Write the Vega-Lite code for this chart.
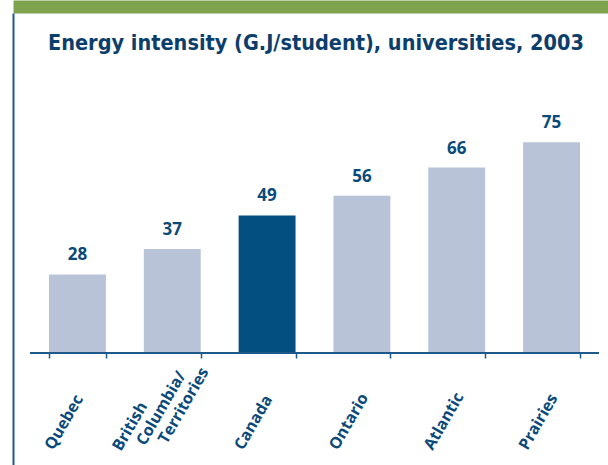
{
  "$schema": "https://vega.github.io/schema/vega-lite/v6.json",
  "width": 595,
  "height": 452,
  "autosize": {"type": "none"},
  "padding": {"left": 13, "top": 13, "right": 0, "bottom": 0},
  "background": "white",
  "title": {
    "text": "Energy intensity (G.J/student), universities, 2003",
    "anchor": "start",
    "frame": "group",
    "orient": "top",
    "offset": -48,
    "dx": 35,
    "font": "DejaVu Sans Condensed, Roboto, sans-serif",
    "fontSize": 21.5,
    "fontWeight": "bold",
    "color": "#0c3e6c"
  },
  "config": {"view": {"stroke": null}, "font": "Open Sans"},
  "data": {
    "values": [
      {"region": "Quebec", "value": 28},
      {"region": "British Columbia/ Territories", "value": 37},
      {"region": "Canada", "value": 49},
      {"region": "Ontario", "value": 56},
      {"region": "Atlantic", "value": 66},
      {"region": "Prairies", "value": 75}
    ]
  },
  "layer": [
    {
      "mark": {"type": "bar"},
      "encoding": {
        "x": {
          "field": "region",
          "type": "nominal",
          "sort": null,
          "scale": {"paddingInner": 0.4, "paddingOuter": 0.3375, "align": 0.5625},
          "axis": {
            "orient": "bottom",
            "offset": -112,
            "title": null,
            "domain": false,
            "ticks": true,
            "tickBand": "extent",
            "tickColor": "#1f5a8c",
            "tickSize": 5,
            "tickWidth": 1.5,
            "labelAngle": -60,
            "labelAlign": "left",
            "labelBaseline": "middle",
            "labelPadding": {"condition": {"test": "datum.value == 'British Columbia/ Territories'", "value": 91}, "value": 90},
            "labelOffset": {"condition": {"test": "datum.value == 'British Columbia/ Territories'", "value": -56}, "value": -29},
            "labelOverlap": false,
            "labelBound": false,
            "labelFont": "Open Sans",
            "labelFontSize": 16,
            "labelFontWeight": "bold",
            "labelColor": "#0a4a7a",
            "labelLineHeight": 18,
            "labelExpr": "datum.value == 'British Columbia/ Territories' ? ['British', '\u200b\u00a0\u00a0\u00a0\u00a0Columbia/', '\u200b\u00a0\u00a0\u00a0\u00a0\u00a0\u00a0\u00a0Territories'] : datum.value"
          }
        },
        "y": {
          "field": "value",
          "type": "quantitative",
          "scale": {"domain": [-39.8, 121], "nice": false, "zero": false},
          "axis": {
            "orient": "left",
            "title": null,
            "domain": true,
            "domainColor": "#1f5a8c",
            "domainWidth": 2,
            "ticks": false,
            "labels": false,
            "grid": false
          }
        },
        "y2": {"datum": 0},
        "color": {
          "condition": {"test": "datum.region === 'Canada'", "value": "#034f80"},
          "value": "#b9c3d8"
        }
      }
    },
    {
      "mark": {"type": "text", "baseline": "alphabetic", "dy": -14, "font": "Open Sans", "fontSize": 17, "fontWeight": "bold", "color": "#0a4a7a"},
      "encoding": {
        "x": {
          "field": "region",
          "type": "nominal",
          "sort": null,
          "axis": {
            "orient": "top",
            "offset": 6.5,
            "title": null,
            "domain": true,
            "domainColor": "#7fa24f",
            "domainWidth": 13,
            "ticks": false,
            "labels": false,
            "grid": false
          }
        },
        "y": {"field": "value", "type": "quantitative", "axis": null},
        "text": {"field": "value", "type": "quantitative"}
      }
    },
    {
      "mark": {"type": "rule", "color": "#1f5a8c", "strokeWidth": 1.5},
      "encoding": {
        "x": {"datum": "Quebec", "bandPosition": -0.334, "axis": null},
        "x2": {"datum": "Prairies", "bandPosition": 1.334},
        "y": {"datum": 0, "type": "quantitative", "axis": null}
      }
    }
  ],
  "resolve": {"axis": {"x": "independent", "y": "independent"}}
}
